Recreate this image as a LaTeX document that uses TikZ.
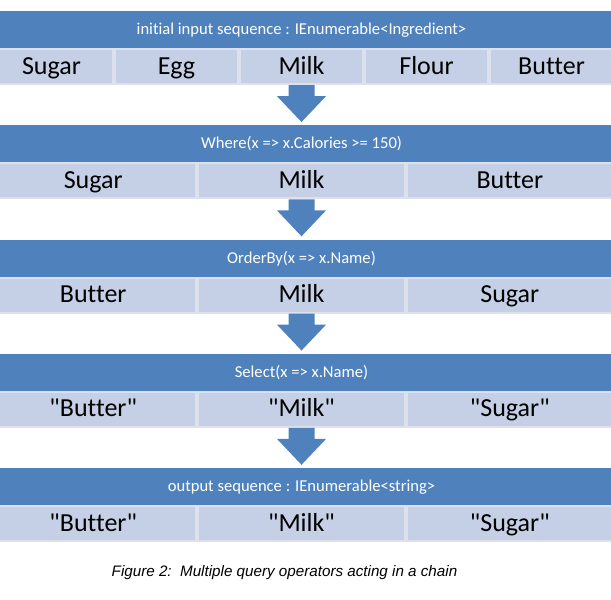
\documentclass[tikz,border=0pt]{standalone}
\usepackage{fontspec}
\usepackage{tikz}
\usetikzlibrary{calc}

\newfontfamily\calfont{Carlito}[Ligatures={TeXOff,NoCommon}]
\newfontfamily\capfont{Liberation Sans}

\definecolor{hdrblue}{HTML}{4F81BD}
\definecolor{cellblue}{HTML}{C5D0E6}
\definecolor{bandgray}{HTML}{DCE1EC}

\begin{document}
\begin{tikzpicture}[
  x=1pt, y=-1pt,
  hdr/.style={fill=hdrblue, text=white, font=\calfont\fontsize{16.6}{19}\selectfont, minimum width=621pt, minimum height=37pt, inner sep=0pt, text height=13pt, text depth=3pt},
  band/.style={fill=bandgray, minimum width=621pt, minimum height=37pt, inner sep=0pt},
  cell/.style={fill=cellblue, font=\calfont\fontsize{26}{30}\selectfont, minimum height=33pt, inner sep=0pt, text height=19.5pt, text depth=4.5pt},
  flow/.style={fill=hdrblue},
  caption/.style={font=\capfont\itshape\fontsize{15.2}{18}\selectfont}
]
  \useasboundingbox (0,0) rectangle (611,600);
  \clip (0,0) rectangle (611,600);

  % input sequence
  \node[hdr] (h1) at (301.5,29.5) {initial input sequence : IEnumerable<Ingredient>};
  \node[band] (r1) at (301.5,66.5) {};
  \foreach \t [count=\k] in {Sugar,Egg,Milk,Flour,Butter}
    \node[cell, minimum width=121pt] (c1\k) at ({51.5+125*(\k-1)},66.5) {\t};

  % Where
  \node[hdr] (h2) at (301.5,143.75) {Where(x => x.Calories >= 150)};
  \node[band] (r2) at (301.5,180.75) {};
  \foreach \t [count=\k] in {Sugar,Milk,Butter}
    \node[cell, minimum width=204.3pt] (c2\k) at ({93.2+208.3*(\k-1)},180.75) {\t};

  % OrderBy
  \node[hdr] (h3) at (301.5,258) {OrderBy(x => x.Name)};
  \node[band] (r3) at (301.5,295) {};
  \foreach \t [count=\k] in {Butter,Milk,Sugar}
    \node[cell, minimum width=204.3pt] (c3\k) at ({93.2+208.3*(\k-1)},295) {\t};

  % Select
  \node[hdr] (h4) at (301.5,372.25) {Select(x => x.Name)};
  \node[band] (r4) at (301.5,409.25) {};
  \foreach \t [count=\k] in {"Butter","Milk","Sugar"}
    \node[cell, minimum width=204.3pt] (c4\k) at ({93.2+208.3*(\k-1)},409.25) {\t};

  % output sequence
  \node[hdr] (h5) at (301.5,486.5) {output sequence : IEnumerable<string>};
  \node[band] (r5) at (301.5,523.5) {};
  \foreach \t [count=\k] in {"Butter","Milk","Sugar"}
    \node[cell, minimum width=204.3pt] (c5\k) at ({93.2+208.3*(\k-1)},523.5) {\t};

  % block arrows between the stages
  \foreach \a/\b in {r1/h2, r2/h3, r3/h4, r4/h5} {
    \fill[flow] ($(\a.south)+(-13,0)$) -- ($(\a.south)+(13,0)$) -- ($(\a.south)+(13,11)$)
      -- ($(\a.south)+(24.5,11)$) -- ($(\b.north)+(0,-3)$) -- ($(\a.south)+(-24.5,11)$)
      -- ($(\a.south)+(-13,11)$) -- cycle;
  }

  \node[caption] (cap) at (284.5,573) {Figure 2:\ \ Multiple query operators acting in a chain};
\end{tikzpicture}
\end{document}
